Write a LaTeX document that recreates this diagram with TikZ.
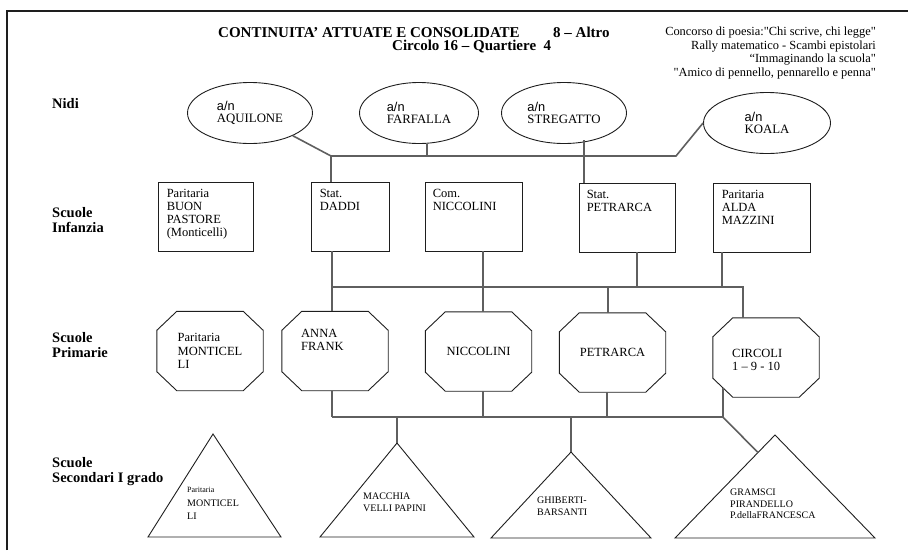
\documentclass[tikz,border=0pt]{standalone}
\usepackage{fontspec}
\setmainfont{Liberation Serif}
\setsansfont{Liberation Sans}
\newfontfamily\eventfont{Liberation Serif}
\usepackage{tikz}
\usetikzlibrary{positioning,shapes.geometric,calc}
\definecolor{inkdark}{RGB}{30,30,30}
\definecolor{linkgray}{RGB}{95,95,95}

% octagon outline around a primary-school node
\newcommand{\primoct}[1]{%
  \draw[octline] ([xshift=20pt]#1.north west) -- ([xshift=-20pt]#1.north east)
    -- ([yshift=-19pt]#1.north east) -- ([yshift=19pt]#1.south east)
    -- ([xshift=-20pt]#1.south east) -- ([xshift=20pt]#1.south west)
    -- ([yshift=19pt]#1.south west) -- ([yshift=-19pt]#1.north west) -- cycle;}

\begin{document}
\begin{tikzpicture}[x=1pt, y=-1pt,
  nido/.style={ellipse, draw=inkdark, line width=0.9pt, minimum width=125pt,
               minimum height=61pt, inner sep=0pt, align=left,
               font=\fontsize{12.8}{12.5}\selectfont},
  infbox/.style={rectangle, draw=inkdark, line width=0.9pt, minimum width=96pt,
                 minimum height=69pt, inner sep=0pt},
  prim/.style={rectangle, minimum width=106pt, minimum height=79pt,
               inner sep=0pt, align=left, font=\fontsize{12.5}{13.3}\selectfont},
  octline/.style={draw=inkdark, line width=0.9pt, line join=miter},
  tri/.style={draw=inkdark, line width=0.9pt},
  txt/.style={anchor=north west, inner sep=0pt, align=left,
              font=\fontsize{12.5}{13.3}\selectfont},
  trtxt/.style={anchor=north west, inner sep=0pt, align=left,
                font=\fontsize{10}{11.5}\selectfont},
  level/.style={anchor=north west, inner sep=0pt, align=left,
                font=\fontsize{14.5}{15}\selectfont\bfseries},
  title/.style={anchor=north west, inner sep=0pt,
                font=\fontsize{15}{16}\selectfont\bfseries},
  link/.style={draw=linkgray, line width=1.6pt}
]
\useasboundingbox (0,0) rectangle (908,550);
\draw[inkdark, line width=1.2pt] (7,550) -- (7,11) -- (908,11);

% heading
\node[title] (head) at (218,27) {CONTINUITA' ATTUATE E CONSOLIDATE};
\node[title] (head-alt) at (553,27) {8 -- Altro};
\node[title] (head-sub) at (392,40) {Circolo 16 -- Quartiere\ \ 4};
\node[anchor=north east, align=right, inner sep=0pt,
      font=\fontsize{12.4}{13.5}\eventfont] (events) at (876,27)
  {Concorso di poesia:"Chi scrive, chi legge"\\
   Rally matematico - Scambi epistolari\\
   “Immaginando la scuola"\\
   "Amico di pennello, pennarello e penna"};

% row labels
\node[level] (lv-nidi) at (52,98) {Nidi};
\node[level] (lv-inf) at (52,207) {Scuole\\Infanzia};
\node[level] (lv-prim) at (52,332) {Scuole\\Primarie};
\node[level] (lv-sec) at (52,457) {Scuole\\Secondari I grado};

% nidi
\node[nido] (aquilone) at (250,113) {\textsf{a/n}\\AQUILONE};
\node[nido, minimum width=119pt] (farfalla) at (419,113) {\textsf{a/n}\\FARFALLA};
\node[nido] (stregatto) at (564,113) {\textsf{a/n}\\STREGATTO};
\node[nido, minimum width=127pt] (koala) at (767,123) {\textsf{a/n}\\KOALA};

% scuole infanzia
\node[infbox, minimum width=95pt] (buonp) at (205.5,216.5) {};
\node[txt, below right=7pt and 9pt of buonp.north west] (buonp-t)
  {Paritaria\\BUON\\PASTORE\\(Monticelli)};
\node[infbox, minimum width=78pt] (daddi) at (350,216.5) {};
\node[txt, below right=7pt and 9pt of daddi.north west] (daddi-t) {Stat.\\DADDI};
\node[infbox, minimum width=97pt] (niccI) at (473.5,216.5) {};
\node[txt, below right=7pt and 8pt of niccI.north west] (niccI-t) {Com.\\NICCOLINI};
\node[infbox] (petrI) at (627,217.5) {};
\node[txt, below right=7pt and 8pt of petrI.north west] (petrI-t) {Stat.\\PETRARCA};
\node[infbox, minimum width=97pt] (alda) at (761.5,217.5) {};
\node[txt, below right=7pt and 9pt of alda.north west] (alda-t)
  {Paritaria\\ALDA\\MAZZINI};

% scuole primarie
\node[prim] (monticP) at (210,351) {Paritaria\\MONTICEL\\LI};
\node[prim] (frank) at (335,351) {};
\node[txt] (frank-t) at (301,329) {ANNA\\FRANK};
\node[prim] (niccP) at (478.5,351.5) {NICCOLINI};
\node[prim] (petrP) at (612.5,352.5) {PETRARCA};
\node[prim] (circoli) at (766,357.5) {};
\node[txt] (circoli-t) at (732,349) {CIRCOLI\\1 -- 9 - 10};
\foreach \p in {monticP,frank,niccP,petrP,circoli} {\primoct{\p}}

% secondarie di I grado
\draw[tri] (213,434) coordinate (montS-a) -- (148,537) -- (281,537) -- cycle;
\node[trtxt, font=\fontsize{10}{13.5}\selectfont] (montS-t) at (187,487)
  {{\fontsize{8}{9}\selectfont Paritaria}\\MONTICEL\\LI};
\draw[tri] (397,443) coordinate (macc-a) -- (320,537) -- (474,537) -- cycle;
\node[trtxt] (macc-t) at (363,493) {MACCHIA\\VELLI PAPINI};
\draw[tri] (571,452) coordinate (ghib-a) -- (491,538) -- (651,538) -- cycle;
\node[trtxt] (ghib-t) at (537,497) {GHIBERTI-\\BARSANTI};
\draw[tri] (775,435) coordinate (gram-a) -- (675,538) coordinate (gram-l)
  -- (875,538) -- cycle;
\node[trtxt] (gram-t) at (730,489) {GRAMSCI\\PIRANDELLO\\P.dellaFRANCESCA};

% connections
\coordinate (busA-w) at (331,156);
\coordinate (busA-e) at (676,156);
\coordinate (farf-j) at (427,156);
\coordinate (streg-j) at (584,140);
\coordinate (busB-w) at (332,287);
\coordinate (busB-e) at (743,287);
\coordinate (busC-w) at (332,417);
\coordinate (circ-j) at ($([yshift=19pt]circoli.south west)!0.5!([xshift=20pt]circoli.south west)$);

\draw[link] (aquilone) -- (busA-w) -- (busA-e) -- (koala.west);
\draw[link] (farfalla.south -| farf-j) -- (farf-j);
\draw[link] (busA-w) -- (busA-w |- daddi.north);
\draw[link] (streg-j) -- (streg-j |- petrI.north);

\draw[link] (daddi.south -| busB-w) -- (frank.north -| busB-w);
\draw[link] ([xshift=9.5pt]niccI.south) -- ([xshift=4.5pt]niccP.north);
\draw[link] ([xshift=10pt]petrI.south) -- ([xshift=10pt]petrI.south |- busB-w);
\draw[link] ([xshift=-39.5pt]alda.south) -- ([xshift=-39.5pt]alda.south |- busB-w);
\draw[link] (busB-w) -- (busB-e) -- (busB-e |- circoli.north);
\draw[link] ([xshift=-4.5pt]petrP.north) -- ([xshift=-4.5pt]petrP.north |- busB-w);

\draw[link] (frank.south -| busC-w) -- (busC-w);
\draw[link] ([xshift=4.5pt]niccP.south) -- ([xshift=4.5pt]niccP.south |- busC-w);
\draw[link] ([xshift=-5.5pt]petrP.south) -- ([xshift=-5.5pt]petrP.south |- busC-w);
\draw[link] (circ-j) -- (circ-j |- busC-w) coordinate (busC-e) -- (busC-w);
\draw[link] (busC-e) -- ($(gram-a)!0.17!(gram-l)$);
\draw[link] (macc-a |- busC-w) -- (macc-a);
\draw[link] (ghib-a |- busC-w) -- (ghib-a);
\end{tikzpicture}
\end{document}
